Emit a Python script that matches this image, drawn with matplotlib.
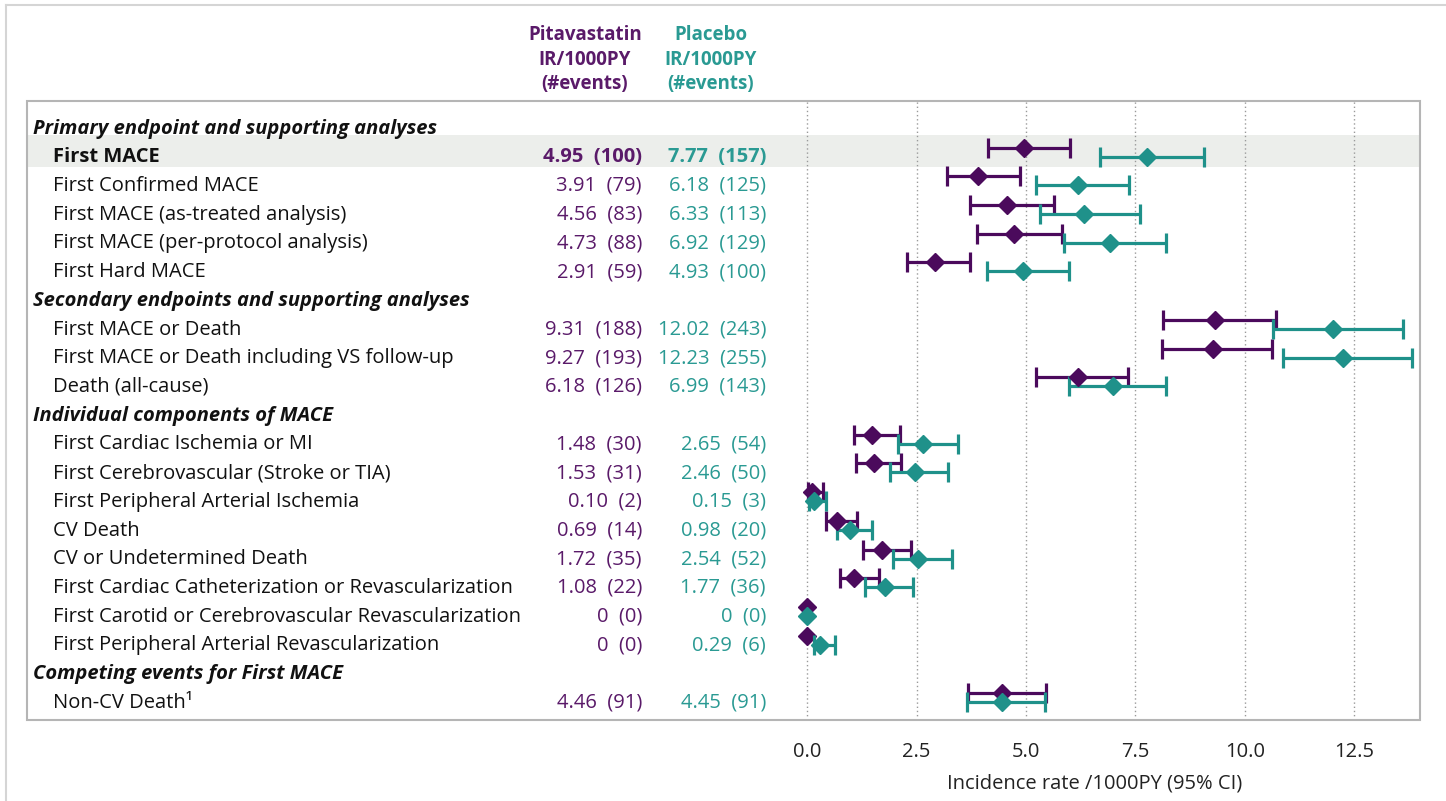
import numpy as np
import matplotlib
matplotlib.use("Agg")
import matplotlib.pyplot as plt
from matplotlib.patches import Rectangle
from matplotlib.lines import Line2D

plt.rcParams["font.family"] = ["Open Sans", "DejaVu Sans"]

nan = np.nan

# rows of the table (section headers have no values)
labels = [
    "Primary endpoint and supporting analyses",
    "First MACE",
    "First Confirmed MACE",
    "First MACE (as-treated analysis)",
    "First MACE (per-protocol analysis)",
    "First Hard MACE",
    "Secondary endpoints and supporting analyses",
    "First MACE or Death",
    "First MACE or Death including VS follow-up",
    "Death (all-cause)",
    "Individual components of MACE",
    "First Cardiac Ischemia or MI",
    "First Cerebrovascular (Stroke or TIA)",
    "First Peripheral Arterial Ischemia",
    "CV Death",
    "CV or Undetermined Death",
    "First Cardiac Catheterization or Revascularization",
    "First Carotid or Cerebrovascular Revascularization",
    "First Peripheral Arterial Revascularization",
    "Competing events for First MACE",
    "Non-CV Death\u00b9",
]
is_header = [True, False, False, False, False, False, True, False, False, False,
             True, False, False, False, False, False, False, False, False, True, False]

# Pitavastatin: IR/1000PY, events, 95% CI
pit_ir = ["", "4.95", "3.91", "4.56", "4.73", "2.91", "", "9.31", "9.27", "6.18", "",
          "1.48", "1.53", "0.10", "0.69", "1.72", "1.08", "0", "0", "", "4.46"]
pit_n = [None, 100, 79, 83, 88, 59, None, 188, 193, 126, None,
         30, 31, 2, 14, 35, 22, 0, 0, None, 91]
pit_lo = [nan, 4.12, 3.19, 3.72, 3.88, 2.29, nan, 8.12, 8.10, 5.23, nan,
          1.07, 1.12, 0.01, 0.44, 1.28, 0.76, nan, nan, nan, 3.68]
pit_hi = [nan, 6.00, 4.86, 5.63, 5.81, 3.73, nan, 10.71, 10.63, 7.33, nan,
          2.11, 2.15, 0.35, 1.14, 2.37, 1.63, nan, nan, nan, 5.46]

# Placebo
pbo_ir = ["", "7.77", "6.18", "6.33", "6.92", "4.93", "", "12.02", "12.23", "6.99", "",
          "2.65", "2.46", "0.15", "0.98", "2.54", "1.77", "0", "0.29", "", "4.45"]
pbo_n = [None, 157, 125, 113, 129, 100, None, 243, 255, 143, None,
         54, 50, 3, 20, 52, 36, 0, 6, None, 91]
pbo_lo = [nan, 6.69, 5.23, 5.31, 5.87, 4.10, nan, 10.65, 10.86, 5.98, nan,
          2.08, 1.90, 0.03, 0.67, 1.96, 1.33, nan, 0.16, nan, 3.65]
pbo_hi = [nan, 9.06, 7.35, 7.60, 8.19, 5.98, nan, 13.61, 13.81, 8.19, nan,
          3.45, 3.21, 0.42, 1.49, 3.31, 2.42, nan, 0.63, nan, 5.43]

highlight_row = 1
xticks = [0.0, 2.5, 5.0, 7.5, 10.0, 12.5]

PURPLE = "#4b0a5c"
PURPLE_TXT = "#5a1a69"
TEAL = "#1f918a"
TEAL_TXT = "#2a9a93"
BAND = "#eceeeb"
FS = 14.5

W, H = 1446, 801
fig = plt.figure(figsize=(W / 100, H / 100), dpi=100)

box_l, box_r, box_t, box_b = 26.5, 1420, 101, 720
split = 770
ax_t = fig.add_axes([box_l / W, 1 - box_b / H, (split - box_l) / W, (box_b - box_t) / H])
ax = fig.add_axes([split / W, 1 - box_b / H, (box_r - split) / W, (box_b - box_t) / H])

n = len(labels)
ylim = (n - 1 + 0.78, -0.78)

# table part
ax_t.set_xlim(box_l, split)
ax_t.set_ylim(*ylim)
ax_t.axis("off")
for a in (ax_t, ax):
    a.axhspan(highlight_row - 0.59, highlight_row + 0.51, color=BAND, zorder=0, lw=0)

for i, lab in enumerate(labels):
    ty = i + 0.18
    if is_header[i]:
        ax_t.text(33, ty, lab, fontsize=FS, fontweight="bold", fontstyle="italic",
                  va="center", ha="left", color="#111111")
        continue
    bold = "bold" if i == highlight_row else "normal"
    ax_t.text(53, ty, lab, fontsize=FS, fontweight=bold, va="center", ha="left", color="#111111")
    ax_t.text(642, ty, f"{pit_ir[i]}  ({pit_n[i]})", fontsize=FS, fontweight=bold,
              va="center", ha="right", color=PURPLE_TXT)
    ax_t.text(766, ty, f"{pbo_ir[i]}  ({pbo_n[i]})", fontsize=FS, fontweight=bold,
              va="center", ha="right", color=TEAL_TXT)

# column headers
fig.text(585 / W, 1 - 60 / H, "Pitavastatin\nIR/1000PY\n(#events)", fontsize=13.5,
         fontweight="bold", color=PURPLE_TXT, ha="center", va="center", linespacing=1.3)
fig.text(711 / W, 1 - 60 / H, "Placebo\nIR/1000PY\n(#events)", fontsize=13.5,
         fontweight="bold", color=TEAL_TXT, ha="center", va="center", linespacing=1.3)

# forest part
ax.set_xlim(-0.85, 14.0)
ax.set_ylim(*ylim)
ax.set_yticks([])
ax.set_xticks(xticks)
ax.set_xticklabels([f"{t:.1f}" for t in xticks])
ax.tick_params(axis="x", length=0, pad=16, labelsize=FS, labelcolor="#222222")
ax.xaxis.grid(True, linestyle=(0, (1, 2)), color="#9a9a9a", lw=1)
ax.set_axisbelow(True)
for s in ax.spines.values():
    s.set_visible(False)
ax.set_xlabel("Incidence rate /1000PY (95% CI)", fontsize=FS, color="#222222", labelpad=8)

off = 0.157
for vals, lo, hi, col, dy in [(pit_ir, pit_lo, pit_hi, PURPLE, -off),
                              (pbo_ir, pbo_lo, pbo_hi, TEAL, off)]:
    for i in range(n):
        if vals[i] == "":
            continue
        v = float(vals[i])
        if np.isnan(lo[i]):
            ax.plot(v, i + dy, marker="D", ms=9, color=col, zorder=4, clip_on=False)
        else:
            ax.errorbar(v, i + dy, xerr=[[v - lo[i]], [hi[i] - v]], fmt="D", ms=9,
                        color=col, ecolor=col, elinewidth=2.3, capsize=7, capthick=2.3,
                        zorder=4)

# panel box and outer border
fig.patches.append(Rectangle((box_l / W, 1 - box_b / H), (box_r - box_l) / W, (box_b - box_t) / H,
                             transform=fig.transFigure, fill=False, edgecolor="#b5b5b5", lw=1.5))
fig.lines.append(Line2D([6 / W, 1], [1 - 5 / H, 1 - 5 / H], transform=fig.transFigure,
                        color="#d5d5d5", lw=1.5))
fig.lines.append(Line2D([6 / W, 6 / W], [0, 1 - 5 / H], transform=fig.transFigure,
                        color="#d5d5d5", lw=1.5))

fig.savefig("out.png", dpi=100)
